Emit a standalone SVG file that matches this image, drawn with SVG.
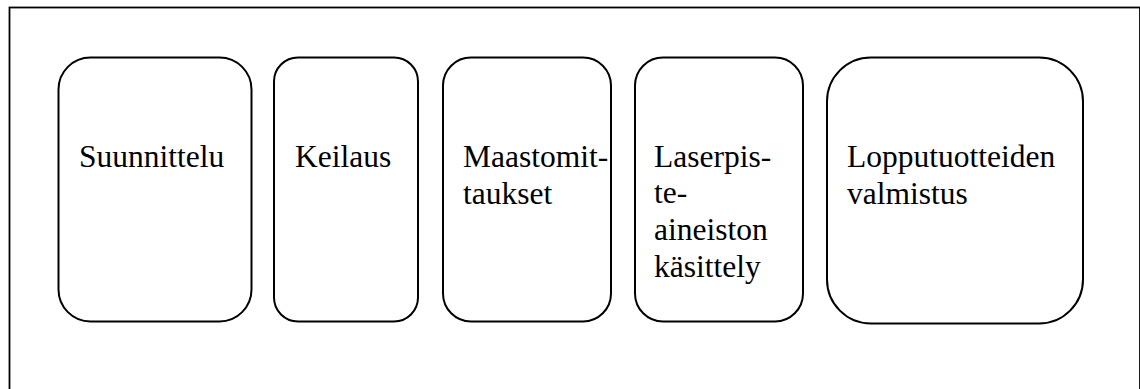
<svg xmlns="http://www.w3.org/2000/svg" width="1140" height="389" viewBox="0 0 1140 389">
  <style>
    .frame { fill: #ffffff; stroke: #000000; stroke-width: 1.8; }
    .step { fill: #ffffff; stroke: #000000; stroke-width: 2; }
    .label { font-family: "Liberation Serif", "Times New Roman", serif; font-size: 31.5px; fill: #000000; }
  </style>
  <rect width="1140" height="389" fill="#ffffff"/>
  <!-- outer frame, open at the bottom edge of the canvas -->
  <rect class="frame" x="9.5" y="7.5" width="1130.5" height="400"/>

  <g id="suunnittelu">
    <rect class="step" x="58.5" y="57.5" width="193" height="264" rx="32" ry="32"/>
    <text class="label" x="79" y="167">Suunnittelu</text>
  </g>

  <g id="keilaus">
    <rect class="step" x="274" y="57.5" width="144" height="264" rx="24" ry="24"/>
    <text class="label" x="295" y="167">Keilaus</text>
  </g>

  <g id="maastomittaukset">
    <rect class="step" x="443" y="57.5" width="168" height="264" rx="28" ry="28"/>
    <text class="label" x="463" y="167">Maastomit-</text>
    <text class="label" x="463" y="204">taukset</text>
  </g>

  <g id="laserpisteaineisto">
    <rect class="step" x="635" y="57.5" width="168" height="264" rx="28" ry="28"/>
    <text class="label" x="654" y="167">Laserpis-</text>
    <text class="label" x="654" y="203">te-</text>
    <text class="label" x="654" y="240">aineiston</text>
    <text class="label" x="654" y="277">käsittely</text>
  </g>

  <g id="lopputuotteet">
    <rect class="step" x="827" y="57.5" width="256" height="266" rx="44" ry="44"/>
    <text class="label" x="847" y="167">Lopputuotteiden</text>
    <text class="label" x="847" y="204">valmistus</text>
  </g>

  <g id="connectors"></g>
</svg>
